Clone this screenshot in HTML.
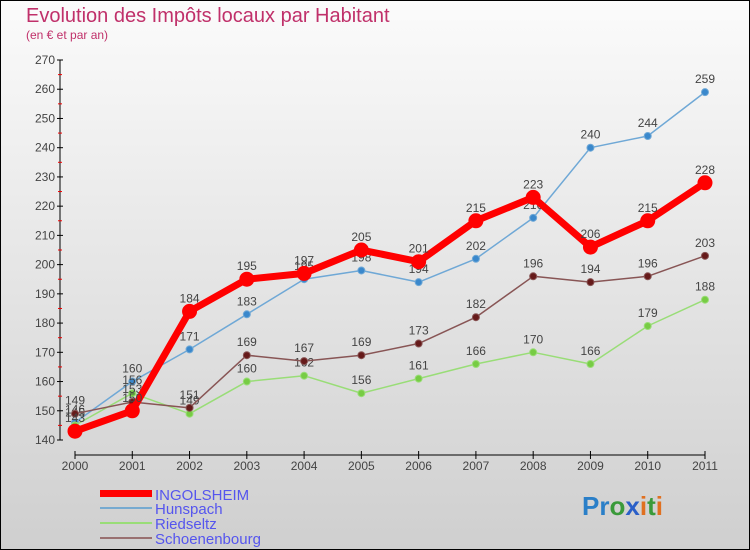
<!DOCTYPE html>
<html><head><meta charset="utf-8"><style>
body{margin:0}
#wrap{width:750px;height:550px;position:relative;overflow:hidden}
svg text{font-family:"Liberation Sans",sans-serif}
</style></head><body>
<div id="wrap">
<svg id="chart" width="750" height="550">
<defs><linearGradient id="bg" x1="0" y1="0" x2="0" y2="1"><stop offset="0" stop-color="#fbfbfb"/><stop offset="1" stop-color="#cfcfcf"/></linearGradient></defs>
<rect x="0.5" y="0.5" width="749" height="549" fill="url(#bg)" stroke="#000"/>
<text x="26" y="22" font-size="20" fill="#c0306a">Evolution des Impôts locaux par Habitant</text>
<text x="26" y="39" font-size="12" fill="#c0306a">(en € et par an)</text>
<g id="axes"></g><g id="series"></g>
<g>
<rect x="100" y="490" width="52" height="7" fill="#f00"/>
<text x="155" y="500" font-size="15" fill="#5555ee">INGOLSHEIM</text>
<rect x="100" y="507" width="52" height="2" fill="#77aad0"/>
<text x="155" y="514" font-size="15" fill="#5555ee">Hunspach</text>
<rect x="100" y="522" width="52" height="2" fill="#99dd77"/>
<text x="155" y="529" font-size="15" fill="#5555ee">Riedseltz</text>
<rect x="100" y="537" width="52" height="2" fill="#997070"/>
<text x="155" y="544" font-size="15" fill="#5555ee">Schoenenbourg</text>
</g>
<g font-size="26" font-weight="bold">
<text x="582" y="515"><tspan fill="#2a7fc8">Pr</tspan><tspan fill="#3a9a3a">o</tspan><tspan fill="#2a5fc8">x</tspan><tspan fill="#e07020">i</tspan><tspan fill="#3a9a3a">t</tspan><tspan fill="#e07020">i</tspan></text>
</g>
</svg></div>
<script>
const years=[2000,2001,2002,2003,2004,2005,2006,2007,2008,2009,2010,2011];
const ingolsheim=[143,150,184,195,197,205,201,215,223,206,215,228];
const hunspach=[146,160,171,183,195,198,194,202,216,240,244,259];
const riedseltz=[145,156,149,160,162,156,161,166,170,166,179,188];
const schoenenbourg=[149,153,151,169,167,169,173,182,196,194,196,203];
const yTicks=[140,150,160,170,180,190,200,210,220,230,240,250,260,270];
const NS="http://www.w3.org/2000/svg";
function X(i){return 75+i*(630/11);}
function Y(v){return 440-(v-140)*(380/130);}
function mk(tag,attrs,parent){const e=document.createElementNS(NS,tag);for(const k in attrs)e.setAttribute(k,attrs[k]);parent.appendChild(e);return e;}
const ax=document.getElementById('axes');
const ya=mk('line',{x1:60,y1:Y(270),x2:60,y2:Y(140),stroke:'#000'},ax);


yTicks.forEach(t=>{
  mk('line',{x1:57,y1:Y(t),x2:63,y2:Y(t),stroke:'#000'},ax);
  if(t<270)mk('line',{x1:58,y1:Y(t+5),x2:62,y2:Y(t+5),stroke:'#e00'},ax);
  const tx=mk('text',{x:55,y:Y(t)+4,'font-size':12,fill:'#444','text-anchor':'end'},ax);
  tx.textContent=t;
  
  
});
const xa=mk('line',{x1:X(0),y1:455,x2:X(11),y2:455,stroke:'#000'},ax);


years.forEach((yr,i)=>{
  mk('line',{x1:X(i),y1:451,x2:X(i),y2:459,stroke:'#000'},ax);
  const tx=mk('text',{x:X(i),y:470,'font-size':12,fill:'#444','text-anchor':'middle'},ax);
  tx.textContent=yr;
  
  
});
const sg=document.getElementById('series');
function draw(name,vals,color,fill,w,r){
  const g=mk('g',{},sg);
  
  
  const pl=mk('polyline',{points:vals.map((v,i)=>X(i)+','+Y(v)).join(' '),fill:'none',stroke:color,'stroke-width':w,'stroke-linejoin':'round'},g);
  
  
  vals.forEach((v,i)=>{
    const c=mk('circle',{cx:X(i),cy:Y(v),r:r,fill:fill,stroke:color,'stroke-width':1},g);
    
    
    const t=mk('text',{x:X(i),y:Y(v)-9,'font-size':12,fill:'#444','text-anchor':'middle'},g);
    t.textContent=v;
    
    
  });
}
draw('hunspach',hunspach,'#6fa8d6','#3a88cc',1.5,3.5);
draw('riedseltz',riedseltz,'#99dd77','#77cc44',1.5,3.5);
draw('schoenenbourg',schoenenbourg,'#885555','#661a1a',1.5,3.5);
draw('ingolsheim',ingolsheim,'#ff0000','#ff0000',7,7);
</script>
</body></html>
